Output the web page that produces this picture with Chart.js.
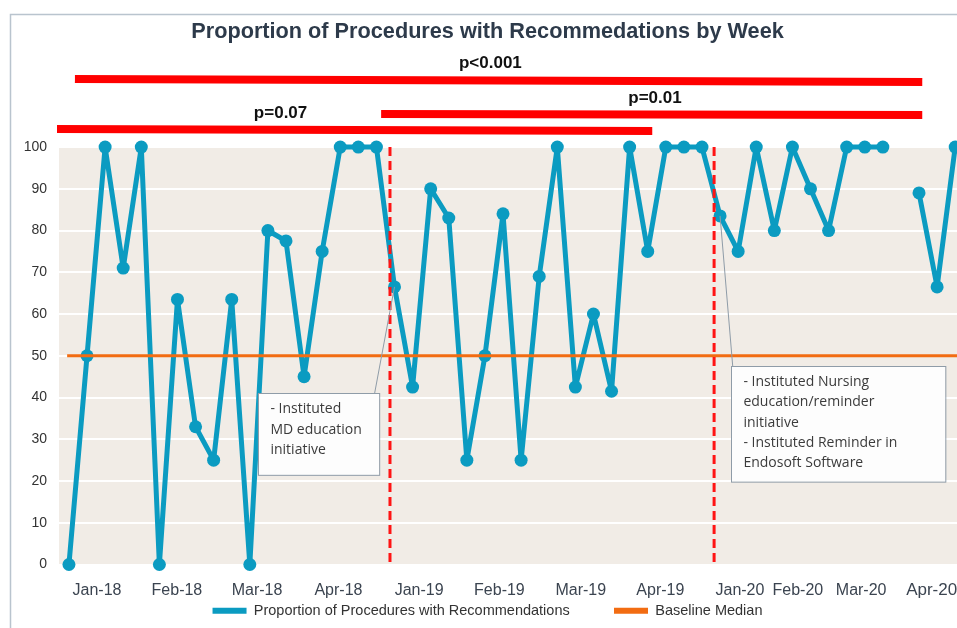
<!DOCTYPE html>
<html>
<head>
<meta charset="utf-8">
<title>Proportion of Procedures with Recommedations by Week</title>
<script src="https://cdn.jsdelivr.net/npm/chart.js@4.4.1/dist/chart.umd.min.js"></script>
<style>
  html, body { margin: 0; padding: 0; background: #fff; }
  #wrap { width: 957px; height: 628px; position: relative; }
</style>
</head>
<body>
<div id="wrap"><canvas id="myChart"></canvas></div>
<script>
// weekly % of procedures with recommendations (null = no procedures that week)
const proportion = [
  0, 50, 100, 71, 100, 0, 63.5, 33, 25, 63.5,
  0, 80, 77.5, 45, 75, 100, 100, 100, 66.5, 42.5,
  90, 83, 25, 50, 84, 25, 69, 100, 42.5, 60,
  41.5, 100, 75, 100, 100, 100, 83.5, 75, 100, 80,
  100, 90, 80, 100, 100, 100, null, 89, 66.5, 100
];
const baselineMedian = 50;

// x-axis month labels and the week they sit under
const tickLabels = ['Jan-18', 'Feb-18', 'Mar-18', 'Apr-18', 'Jan-19', 'Feb-19', 'Mar-19', 'Apr-19', 'Jan-20', 'Feb-20', 'Mar-20', 'Apr-20'];
const tickWeeks = [1.55, 5.97, 10.4, 14.9, 19.36, 23.8, 28.3, 32.7, 37.1, 40.3, 43.8, 47.7];

// intervention start weeks (dashed red lines)
const phaseWeeks = [17.75, 35.67];

// significance bars above the chart (x in weeks, y in px from top)
const sigBars = [
  { text: 'p<0.001', from: 0.33, to: 47.18, textAt: 23.3, y1: 79, y2: 82, ty: 63 },
  { text: 'p=0.01', from: 17.26, to: 47.18, textAt: 32.4, y1: 114, y2: 115, ty: 98 },
  { text: 'p=0.07', from: -0.66, to: 32.25, textAt: 11.7, y1: 129, y2: 131, ty: 113 }
];

// callout boxes (box corners in weeks / %, linked to a data point)
const notes = [
  { lines: ['- Instituted', 'MD education', 'initiative'], left: 10.45, right: 17.15, top: 41, bottom: 21.4, anchor: 16.9, week: 18 },
  { lines: ['- Instituted Nursing', 'education/reminder', 'initiative', '- Instituted Reminder in', 'Endosoft Software'],
    left: 36.6, right: 48.45, top: 47.5, bottom: 19.8, anchor: 36.7, week: 36 }
];

const blue = '#0b9bc1';
const orange = '#f26c12';
const font = "'Liberation Sans', Arial, sans-serif";

const chartFrame = {
  id: 'chartFrame',
  beforeDraw(chart) {
    const { ctx, chartArea: a } = chart;
    ctx.save();
    ctx.fillStyle = '#fff';
    ctx.fillRect(0, 0, chart.width, chart.height);
    ctx.strokeStyle = '#b9c4ce';
    ctx.lineWidth = 1.5;
    ctx.strokeRect(10.5, 14.5, chart.width + 20, chart.height + 20);
    ctx.fillStyle = '#f1ece6';
    ctx.fillRect(a.left, a.top, a.right - a.left, a.bottom - a.top);
    ctx.restore();
  }
};

const annotations = {
  id: 'annotations',
  afterDatasetsDraw(chart) {
    const { ctx, chartArea: a } = chart;
    const x = chart.scales.x, y = chart.scales.y;
    const pts = chart.getDatasetMeta(0).data;
    ctx.save();

    // dashed phase lines
    ctx.strokeStyle = '#ff1414';
    ctx.lineWidth = 3;
    ctx.setLineDash([9, 5]);
    phaseWeeks.forEach(w => {
      const px = x.getPixelForValue(w);
      ctx.beginPath();
      ctx.moveTo(px, a.top);
      ctx.lineTo(px, a.bottom);
      ctx.stroke();
    });
    ctx.setLineDash([]);

    // callouts
    notes.forEach(n => {
      const l = x.getPixelForValue(n.left), r = x.getPixelForValue(n.right);
      const t = y.getPixelForValue(n.top), b = y.getPixelForValue(n.bottom);
      const p = pts[n.week];
      ctx.strokeStyle = '#8f9ca8';
      ctx.lineWidth = 1;
      ctx.beginPath();
      ctx.moveTo(x.getPixelForValue(n.anchor), t);
      ctx.lineTo(p.x, p.y);
      ctx.stroke();
      ctx.fillStyle = '#fdfdfd';
      ctx.fillRect(l, t, r - l, b - t);
      ctx.strokeRect(Math.round(l) + 0.5, Math.round(t) + 0.5, r - l, b - t);
      ctx.fillStyle = '#3b3b3b';
      ctx.font = "14px 'Open Sans', sans-serif";
      ctx.textBaseline = 'middle';
      ctx.textAlign = 'left';
      n.lines.forEach((s, i) => ctx.fillText(s, l + 12.5, t + 16 + i * 20.3));
    });

    // significance bars
    sigBars.forEach(s => {
      ctx.strokeStyle = '#ff0000';
      ctx.lineWidth = 8;
      ctx.beginPath();
      ctx.moveTo(x.getPixelForValue(s.from), s.y1);
      ctx.lineTo(x.getPixelForValue(s.to), s.y2);
      ctx.stroke();
      ctx.fillStyle = '#111';
      ctx.font = 'bold 17px ' + font;
      ctx.textAlign = 'center';
      ctx.textBaseline = 'middle';
      ctx.fillText(s.text, x.getPixelForValue(s.textAt), s.ty);
    });
    ctx.restore();
  }
};

new Chart(document.getElementById('myChart'), {
  type: 'line',
  data: {
    datasets: [
      {
        label: 'Proportion of Procedures with Recommendations',
        data: proportion.map((v, i) => ({ x: i, y: v })),
        borderColor: blue,
        backgroundColor: blue,
        borderWidth: 5,
        borderJoinStyle: 'round',
        borderCapStyle: 'round',
        pointRadius: 6.5,
        pointBorderWidth: 0,
        pointBackgroundColor: blue,
        spanGaps: false,
        clip: false,
        order: 1
      },
      {
        label: 'Baseline Median',
        data: [{ x: -0.1, y: baselineMedian }, { x: 49.1, y: baselineMedian }],
        borderColor: orange,
        backgroundColor: orange,
        borderWidth: 3,
        pointRadius: 0,
        order: 0
      }
    ]
  },
  options: {
    responsive: true,
    maintainAspectRatio: false,
    animation: false,
    layout: { autoPadding: false, padding: { left: 18, right: 0, top: 0, bottom: 0 } },
    plugins: {
      title: {
        display: true,
        text: 'Proportion of Procedures with Recommedations by Week',
        color: '#2d3a4a',
        font: { family: font, size: 21.7, weight: 'bold' },
        padding: { top: 19, bottom: 102 }
      },
      legend: {
        position: 'bottom',
        labels: {
          boxWidth: 34,
          boxHeight: 6,
          padding: 4,
          color: '#333',
          font: { family: font, size: 14.5 },
          sort: (a, b) => a.datasetIndex - b.datasetIndex,
          generateLabels: chart => {
            const items = Chart.defaults.plugins.legend.labels.generateLabels(chart);
            items.forEach(it => {
              it.lineWidth = 0;
              if (it.datasetIndex === 0) it.text += '          ';
            });
            return items;
          }
        }
      },
      tooltip: { enabled: false }
    },
    scales: {
      x: {
        type: 'linear',
        min: -0.55,
        max: 49.1,
        grid: { display: false, drawTicks: false },
        border: { display: false },
        afterBuildTicks: s => { s.ticks = tickWeeks.map(v => ({ value: v })); },
        afterFit: s => { s.paddingLeft = 0; s.paddingRight = 0; s.height = 35; },
        ticks: {
          autoSkip: false,
          maxRotation: 0,
          padding: 16,
          color: '#3b4450',
          font: c => ({ family: font, size: c.index === tickLabels.length - 1 ? 17 : 16 }),
          callback: (v, i) => tickLabels[i]
        }
      },
      y: {
        min: 0,
        max: 100,
        afterFit: s => { s.width = 41; },
        grid: { color: '#fff', lineWidth: 2, drawTicks: false },
        border: { display: false },
        ticks: { stepSize: 10, padding: 12, color: '#333', font: { family: font, size: 14 } }
      }
    }
  },
  plugins: [chartFrame, annotations]
});
</script>
</body>
</html>
